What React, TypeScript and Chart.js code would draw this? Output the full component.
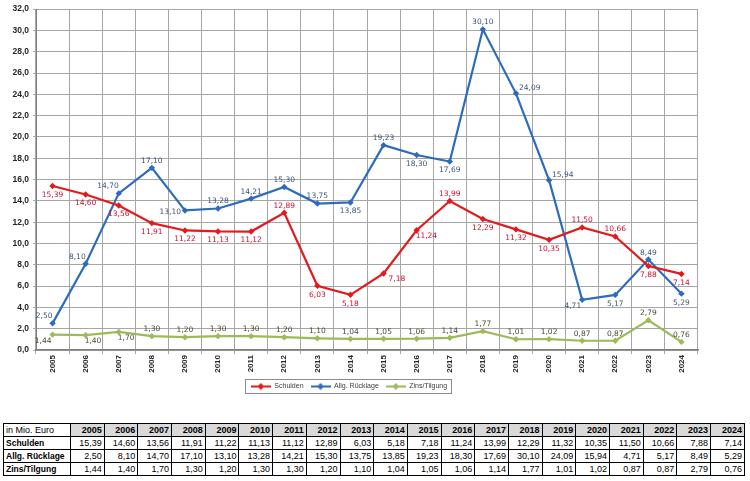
import React, { useEffect, useRef } from 'react';
import { Chart, registerables } from 'chart.js';

Chart.register(...registerables);

const years = ['2005', '2006', '2007', '2008', '2009', '2010', '2011', '2012', '2013', '2014', '2015', '2016', '2017', '2018', '2019', '2020', '2021', '2022', '2023', '2024'];
const schulden = [15.39, 14.6, 13.56, 11.91, 11.22, 11.13, 11.12, 12.89, 6.03, 5.18, 7.18, 11.24, 13.99, 12.29, 11.32, 10.35, 11.5, 10.66, 7.88, 7.14];
const ruecklage = [2.5, 8.1, 14.7, 17.1, 13.1, 13.28, 14.21, 15.3, 13.75, 13.85, 19.23, 18.3, 17.69, 30.1, 24.09, 15.94, 4.71, 5.17, 8.49, 5.29];
const zins = [1.44, 1.4, 1.7, 1.3, 1.2, 1.3, 1.3, 1.2, 1.1, 1.04, 1.05, 1.06, 1.14, 1.77, 1.01, 1.02, 0.87, 0.87, 2.79, 0.76];
const seriesNames = ['Schulden', 'Allg. Rücklage', 'Zins/Tilgung'];
const tableCorner = 'in Mio. Euro';
const yMin = 0;
const yMax = 32;
const yStep = 2;

// label placement codes (a=above, b=below, al/ar/bl/br diagonal, l=left, r=right)
const schuldenLabelPos = ['b', 'b', 'b', 'b', 'b', 'b', 'b', 'a', 'b', 'b', 'r', 'br', 'a', 'b', 'b', 'b', 'a', 'a', 'b', 'b'];
const ruecklageLabelPos = ['al', 'al', 'al', 'a', 'l', 'a', 'a', 'a', 'a', 'b', 'a', 'b', 'b', 'a', 'ar', 'ar', 'bl', 'b', 'a', 'b'];
const zinsLabelPos = ['bl', 'br', 'br', 'a', 'a', 'a', 'a', 'a', 'a', 'a', 'a', 'a', 'a', 'a', 'a', 'a', 'a', 'a', 'a', 'a'];

const fmt2 = (v: number) => v.toFixed(2).replace('.', ',');
const fmt1 = (v: number) => v.toFixed(1).replace('.', ',');

const RED = '#e31a1c';
const BLUE = '#2f6bbd';
const GREEN = '#9bbb59';
const RED_LABEL = '#c8102e';
const BLUE_LABEL = '#3f5679';
const GREEN_LABEL = '#4a4a35';

function makeLegendIcon(color: string) {
  const c = document.createElement('canvas');
  c.width = 20;
  c.height = 8;
  const g = c.getContext('2d')!;
  g.strokeStyle = color;
  g.lineWidth = 2;
  g.beginPath();
  g.moveTo(0, 4);
  g.lineTo(20, 4);
  g.stroke();
  g.fillStyle = color;
  g.beginPath();
  g.moveTo(10, 0.5);
  g.lineTo(13.5, 4);
  g.lineTo(10, 7.5);
  g.lineTo(6.5, 4);
  g.closePath();
  g.fill();
  return c;
}

const pointLabelPlugin = {
  id: 'pointLabels',
  afterDatasetsDraw(chart: any) {
    const ctx = chart.ctx;
    chart.data.datasets.forEach((ds: any, di: number) => {
      const meta = chart.getDatasetMeta(di);
      ctx.save();
      ctx.font = '7.5px "DejaVu Sans"';
      ctx.fillStyle = ds.labelColor;
      ctx.textBaseline = 'middle';
      meta.data.forEach((pt: any, i: number) => {
        const txt = fmt2(ds.data[i]);
        const p = ds.labelPos[i];
        let x = pt.x;
        let y = pt.y;
        let align = 'center';
        switch (p) {
          case 'a': y -= 7; break;
          case 'b': y += 9; break;
          case 'al': align = 'right'; x += 0; y -= 7; break;
          case 'bl': align = 'right'; x -= 1; y += 6; break;
          case 'br': align = 'left'; x -= 1; y += 6; break;
          case 'ar': align = 'left'; x += 3; y -= 5; break;
          case 'l': align = 'right'; x -= 4; y += 2; break;
          case 'r': align = 'left'; x += 5; y += 6; break;
        }
        ctx.textAlign = align;
        ctx.fillText(txt, x, y);
      });
      ctx.restore();
    });
  },
};

const legendBorderPlugin = {
  id: 'legendBorder',
  afterDraw(chart: any) {
    const lg = chart.legend;
    if (!lg || !lg.legendHitBoxes || !lg.legendHitBoxes.length) return;
    const hb = lg.legendHitBoxes;
    let minX = Infinity, maxX = -Infinity, minY = Infinity, maxY = -Infinity;
    hb.forEach((h: any) => {
      minX = Math.min(minX, h.left);
      maxX = Math.max(maxX, h.left + h.width);
      minY = Math.min(minY, h.top);
      maxY = Math.max(maxY, h.top + h.height);
    });
    const ctx = chart.ctx;
    ctx.save();
    ctx.strokeStyle = '#8c8c8c';
    ctx.lineWidth = 1;
    ctx.strokeRect(Math.round(minX - 6) + 0.5, Math.round(minY - 4) + 0.5, Math.round(maxX - minX + 10), Math.round(maxY - minY + 7));
    ctx.restore();
  },
};

function ChartCanvas() {
  const ref = useRef<HTMLCanvasElement>(null);
  useEffect(() => {
    if (!ref.current) return;
    const icons = [makeLegendIcon(RED), makeLegendIcon(BLUE), makeLegendIcon(GREEN)];
    const mk = (label: string, data: number[], color: string, labelColor: string, pos: string[]) => ({
      label,
      data,
      borderColor: color,
      backgroundColor: color,
      borderWidth: 2.2,
      pointStyle: 'rectRot',
      pointRadius: 3.2,
      pointBorderWidth: 0,
      pointBackgroundColor: color,
      tension: 0,
      labelColor,
      labelPos: pos,
    });
    const chart = new Chart(ref.current, {
      type: 'line',
      data: {
        labels: years,
        datasets: [
          mk(seriesNames[0], schulden, RED, RED_LABEL, schuldenLabelPos),
          mk(seriesNames[1], ruecklage, BLUE, BLUE_LABEL, ruecklageLabelPos),
          mk(seriesNames[2], zins, GREEN, GREEN_LABEL, zinsLabelPos),
        ] as any,
      },
      options: {
        animation: false,
        responsive: false,
        devicePixelRatio: 1,
        layout: { padding: { top: 4, right: 52, bottom: 0, left: 0 } },
        scales: {
          x: {
            offset: true,
            grid: { offset: true, color: '#a6a6a6', lineWidth: 1, tickLength: 4, drawTicks: true },
            border: { color: '#7f7f7f', width: 1.5 },
            ticks: {
              autoSkip: false,
              minRotation: 90,
              maxRotation: 90,
              padding: 1,
              color: '#262626',
              font: { family: 'Liberation Sans', size: 8, weight: 'bold' },
            },
            afterFit: (s: any) => { s.height = 26; },
          },
          y: {
            min: yMin,
            max: yMax,
            ticks: {
              stepSize: yStep,
              padding: 4,
              color: '#262626',
              font: { family: 'Liberation Sans', size: 8.5, weight: 'bold' },
              callback: (v: any) => fmt1(Number(v)),
            },
            grid: { color: '#a6a6a6', lineWidth: 1, tickLength: 3 },
            border: { color: '#7f7f7f', width: 1 },
            afterFit: (s: any) => { s.width = 36; },
          },
        },
        plugins: {
          legend: {
            position: 'bottom',
            labels: {
              usePointStyle: true,
              pointStyleWidth: 20,
              boxHeight: 8,
              padding: 7,
              color: '#404040',
              font: { family: 'Liberation Sans', size: 7 },
              generateLabels: (c: any) => {
                const items = (Chart.defaults.plugins.legend.labels as any).generateLabels(c);
                items.forEach((it: any, i: number) => { it.pointStyle = icons[i]; });
                return items;
              },
            },
          },
          tooltip: { enabled: false },
        },
      } as any,
      plugins: [pointLabelPlugin, legendBorderPlugin],
    });
    return () => chart.destroy();
  }, []);
  return <canvas ref={ref} width={750} height={400} style={{ position: 'absolute', left: 0, top: 0 }} />;
}

function DataTable() {
  const rows: [string, number[]][] = [
    [seriesNames[0], schulden],
    [seriesNames[1], ruecklage],
    [seriesNames[2], zins],
  ];
  const cell: React.CSSProperties = {
    border: '1px solid #000',
    padding: '0 2px',
    height: 12,
    lineHeight: '12px',
    textAlign: 'right',
    whiteSpace: 'nowrap',
    overflow: 'hidden',
  };
  return (
    <table
      style={{
        position: 'absolute',
        left: 3,
        top: 423,
        width: 742,
        borderCollapse: 'collapse',
        tableLayout: 'fixed',
        fontFamily: 'Liberation Sans',
        fontSize: 9,
        color: '#000',
      }}
    >
      <colgroup>
        <col style={{ width: 67 }} />
        {years.map((y) => (
          <col key={y} />
        ))}
      </colgroup>
      <tbody>
        <tr>
          <td style={{ ...cell, textAlign: 'left', background: '#fff' }}>{tableCorner}</td>
          {years.map((y) => (
            <td key={y} style={{ ...cell, background: '#d9d9d9', fontWeight: 'bold' }}>{y}</td>
          ))}
        </tr>
        {rows.map(([name, vals]) => (
          <tr key={name}>
            <td style={{ ...cell, textAlign: 'left', fontWeight: 'bold', fontSize: 8.5 }}>{name}</td>
            {vals.map((v, i) => (
              <td key={i} style={cell}>{fmt2(v)}</td>
            ))}
          </tr>
        ))}
      </tbody>
    </table>
  );
}

export default function App() {
  return (
    <div style={{ position: 'absolute', left: 0, top: 0, width: 750, height: 481, background: '#fff', overflow: 'hidden' }}>
      <ChartCanvas />
      <DataTable />
    </div>
  );
}
